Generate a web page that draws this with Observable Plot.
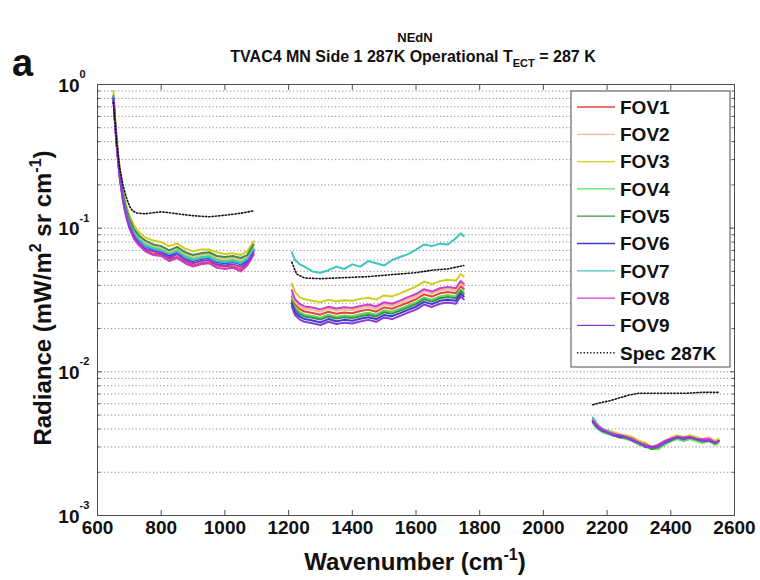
<!DOCTYPE html>
<html><head><meta charset="utf-8">
<script src="https://cdn.jsdelivr.net/npm/d3@7"></script>
<script src="https://cdn.jsdelivr.net/npm/@observablehq/plot@0.6"></script>
<style>
body{margin:0;background:#fff;}
#chart{width:760px;height:580px;}
</style></head><body><div id="chart"></div>
<script>
// Wavenumber grids for the three spectral bands (cm^-1)
const wnSeg = [
  [650, 655, 660, 665, 670, 680, 690, 700, 715, 730, 750, 775, 800, 825, 850, 875, 900, 925, 950, 975, 1000, 1025, 1050, 1070, 1090],
  [1210, 1220, 1235, 1250, 1275, 1300, 1325, 1350, 1375, 1400, 1425, 1450, 1475, 1500, 1525, 1550, 1575, 1600, 1625, 1650, 1675, 1700, 1725, 1740, 1750],
  [2155, 2170, 2185, 2200, 2220, 2240, 2260, 2280, 2300, 2320, 2340, 2360, 2380, 2400, 2420, 2440, 2460, 2480, 2500, 2520, 2540, 2550]
];

const FOV1 = [
  [0.80, 0.54, 0.39, 0.29, 0.225, 0.157, 0.122, 0.102, 0.086, 0.077, 0.071, 0.066, 0.066, 0.061, 0.063, 0.058, 0.055, 0.057, 0.058, 0.055, 0.054, 0.054, 0.052, 0.056, 0.066],
  [0.0336, 0.0294, 0.0273, 0.0263, 0.0257, 0.0250, 0.0262, 0.0254, 0.0259, 0.0256, 0.0265, 0.0271, 0.0262, 0.0281, 0.0275, 0.0289, 0.0304, 0.0320, 0.0346, 0.0334, 0.0352, 0.0359, 0.0352, 0.0394, 0.0378],
  [0.0046, 0.0042, 0.0039, 0.0038, 0.0037, 0.0036, 0.0035, 0.0034, 0.0032, 0.0031, 0.0030, 0.0030, 0.0032, 0.0034, 0.0035, 0.0034, 0.0035, 0.0034, 0.0033, 0.0034, 0.0032, 0.0033]
];
const FOV2 = [
  [0.84, 0.58, 0.41, 0.31, 0.242, 0.170, 0.134, 0.114, 0.096, 0.087, 0.080, 0.075, 0.073, 0.068, 0.072, 0.066, 0.063, 0.065, 0.066, 0.062, 0.061, 0.062, 0.060, 0.063, 0.074],
  [0.035, 0.031, 0.0286, 0.0275, 0.0270, 0.0262, 0.0275, 0.0266, 0.0272, 0.0268, 0.0277, 0.0284, 0.0275, 0.0295, 0.0288, 0.0302, 0.0319, 0.0336, 0.0363, 0.0350, 0.0368, 0.0376, 0.0368, 0.0412, 0.0396],
  [0.0047, 0.0042, 0.0040, 0.0039, 0.0038, 0.0037, 0.0036, 0.0035, 0.0033, 0.0032, 0.0030, 0.0031, 0.0033, 0.0035, 0.0036, 0.0035, 0.0036, 0.0035, 0.0034, 0.0035, 0.0033, 0.0034]
];
const FOV3 = [
  [0.90, 0.62, 0.44, 0.33, 0.26, 0.183, 0.145, 0.123, 0.104, 0.094, 0.086, 0.082, 0.080, 0.075, 0.078, 0.072, 0.069, 0.071, 0.071, 0.068, 0.066, 0.067, 0.065, 0.069, 0.081],
  [0.041, 0.036, 0.033, 0.032, 0.0313, 0.0305, 0.0318, 0.0310, 0.0315, 0.0312, 0.0322, 0.0328, 0.0318, 0.0340, 0.0335, 0.0352, 0.0372, 0.0392, 0.0425, 0.0408, 0.0428, 0.0438, 0.0430, 0.0480, 0.0462],
  [0.0046, 0.0042, 0.0040, 0.0039, 0.0038, 0.0036, 0.0036, 0.0035, 0.0033, 0.0032, 0.0030, 0.0031, 0.0033, 0.0034, 0.0036, 0.0035, 0.0036, 0.0035, 0.0034, 0.0034, 0.0033, 0.0034]
];
const FOV4 = [
  [0.82, 0.56, 0.40, 0.30, 0.235, 0.165, 0.130, 0.110, 0.093, 0.084, 0.077, 0.073, 0.071, 0.066, 0.070, 0.064, 0.061, 0.063, 0.064, 0.060, 0.059, 0.060, 0.058, 0.061, 0.072],
  [0.032, 0.028, 0.026, 0.025, 0.0245, 0.0238, 0.0250, 0.0242, 0.0247, 0.0244, 0.0252, 0.0258, 0.0250, 0.0268, 0.0262, 0.0275, 0.0290, 0.0305, 0.0330, 0.0318, 0.0335, 0.0342, 0.0335, 0.0375, 0.0360],
  [0.0044, 0.0040, 0.0038, 0.0037, 0.0036, 0.0035, 0.0034, 0.0033, 0.0031, 0.0030, 0.0029, 0.0029, 0.0031, 0.0033, 0.0034, 0.0033, 0.0034, 0.0033, 0.0032, 0.0033, 0.0031, 0.0032]
];
const FOV5 = [
  [0.83, 0.57, 0.41, 0.31, 0.245, 0.173, 0.137, 0.116, 0.098, 0.089, 0.082, 0.077, 0.075, 0.070, 0.074, 0.068, 0.065, 0.067, 0.068, 0.064, 0.063, 0.064, 0.062, 0.065, 0.077],
  [0.031, 0.0272, 0.0252, 0.0243, 0.0238, 0.0231, 0.0243, 0.0235, 0.0240, 0.0237, 0.0244, 0.0250, 0.0243, 0.0260, 0.0254, 0.0267, 0.0281, 0.0296, 0.0320, 0.0308, 0.0325, 0.0332, 0.0325, 0.0364, 0.0349],
  [0.0045, 0.0041, 0.0039, 0.0038, 0.0036, 0.0035, 0.0035, 0.0034, 0.0032, 0.0031, 0.0029, 0.0030, 0.0032, 0.0033, 0.0035, 0.0034, 0.0035, 0.0034, 0.0033, 0.0033, 0.0032, 0.0033]
];
const FOV6 = [
  [0.81, 0.55, 0.39, 0.29, 0.23, 0.161, 0.127, 0.107, 0.090, 0.082, 0.075, 0.071, 0.069, 0.064, 0.068, 0.062, 0.059, 0.061, 0.062, 0.058, 0.057, 0.058, 0.056, 0.059, 0.070],
  [0.0298, 0.0260, 0.0242, 0.0233, 0.0228, 0.0221, 0.0233, 0.0225, 0.0230, 0.0227, 0.0234, 0.0240, 0.0233, 0.0249, 0.0244, 0.0256, 0.0270, 0.0284, 0.0307, 0.0296, 0.0312, 0.0318, 0.0312, 0.0349, 0.0335],
  [0.0045, 0.0041, 0.0039, 0.0038, 0.0037, 0.0035, 0.0035, 0.0034, 0.0032, 0.0031, 0.0030, 0.0030, 0.0032, 0.0034, 0.0035, 0.0034, 0.0035, 0.0034, 0.0033, 0.0034, 0.0032, 0.0033]
];
const FOV7 = [
  [0.82, 0.56, 0.40, 0.30, 0.232, 0.163, 0.128, 0.108, 0.092, 0.083, 0.076, 0.072, 0.070, 0.066, 0.069, 0.063, 0.060, 0.062, 0.063, 0.059, 0.058, 0.059, 0.057, 0.061, 0.071],
  [0.068, 0.060, 0.056, 0.054, 0.050, 0.049, 0.051, 0.054, 0.052, 0.056, 0.054, 0.059, 0.057, 0.055, 0.060, 0.063, 0.066, 0.071, 0.077, 0.075, 0.078, 0.077, 0.085, 0.092, 0.088],
  [0.0048, 0.0043, 0.0040, 0.0039, 0.0037, 0.0036, 0.0035, 0.0034, 0.0032, 0.0031, 0.0030, 0.0030, 0.0032, 0.0034, 0.0035, 0.0034, 0.0035, 0.0034, 0.0033, 0.0034, 0.0032, 0.0033]
];
const FOV8 = [
  [0.79, 0.54, 0.38, 0.285, 0.222, 0.154, 0.120, 0.100, 0.084, 0.076, 0.069, 0.065, 0.064, 0.059, 0.062, 0.057, 0.054, 0.056, 0.057, 0.053, 0.052, 0.053, 0.050, 0.055, 0.065],
  [0.037, 0.032, 0.0297, 0.0285, 0.0280, 0.0272, 0.0284, 0.0276, 0.0282, 0.0278, 0.0287, 0.0294, 0.0285, 0.0305, 0.0298, 0.0313, 0.0331, 0.0348, 0.0376, 0.0362, 0.0382, 0.0390, 0.0382, 0.0428, 0.0410],
  [0.0046, 0.0042, 0.0040, 0.0038, 0.0037, 0.0036, 0.0035, 0.0034, 0.0032, 0.0031, 0.0030, 0.0031, 0.0033, 0.0034, 0.0035, 0.0035, 0.0035, 0.0034, 0.0034, 0.0034, 0.0032, 0.0033]
];
const FOV9 = [
  [0.80, 0.55, 0.39, 0.29, 0.228, 0.158, 0.124, 0.104, 0.088, 0.079, 0.072, 0.069, 0.067, 0.062, 0.066, 0.060, 0.057, 0.059, 0.060, 0.056, 0.055, 0.056, 0.054, 0.057, 0.068],
  [0.0285, 0.0249, 0.0231, 0.0223, 0.0218, 0.0212, 0.0223, 0.0215, 0.0220, 0.0217, 0.0224, 0.0230, 0.0223, 0.0239, 0.0233, 0.0245, 0.0258, 0.0271, 0.0294, 0.0283, 0.0298, 0.0304, 0.0298, 0.0334, 0.0320],
  [0.0045, 0.0041, 0.0039, 0.0038, 0.0036, 0.0036, 0.0035, 0.0033, 0.0032, 0.0030, 0.0030, 0.0030, 0.0032, 0.0034, 0.0035, 0.0034, 0.0035, 0.0034, 0.0033, 0.0033, 0.0032, 0.0033]
];

// Spec 287K
const specWn = [
  [650, 660, 670, 680, 690, 700, 710, 725, 750, 775, 800, 850, 900, 950, 1000, 1050, 1090],
  [1210, 1225, 1250, 1300, 1350, 1400, 1450, 1500, 1550, 1600, 1650, 1700, 1750],
  [2155, 2180, 2210, 2240, 2270, 2300, 2350, 2400, 2450, 2500, 2550]
];
const spec287 = [
  [0.75, 0.40, 0.26, 0.20, 0.165, 0.143, 0.132, 0.127, 0.126, 0.128, 0.130, 0.126, 0.122, 0.120, 0.123, 0.127, 0.132],
  [0.058, 0.048, 0.045, 0.0445, 0.045, 0.0455, 0.046, 0.047, 0.048, 0.049, 0.051, 0.052, 0.055],
  [0.0059, 0.0061, 0.0063, 0.0066, 0.0069, 0.0071, 0.0071, 0.0071, 0.0071, 0.0072, 0.0072]
];

const fovNames = ["FOV1", "FOV2", "FOV3", "FOV4", "FOV5", "FOV6", "FOV7", "FOV8", "FOV9"];
const fovColors = ["#e8413c", "#f5b98c", "#d2cc22", "#55e055", "#3a8f4a", "#3a3ad0", "#3cc4c4", "#cf3acf", "#8a3ad6"];
const specName = "Spec 287K";

const xTicks = [600, 800, 1000, 1200, 1400, 1600, 1800, 2000, 2200, 2400, 2600];
const yDecades = [0.001, 0.01, 0.1, 1];
const yExponents = ["-3", "-2", "-1", "0"];
const yMinor = [0.002, 0.003, 0.004, 0.005, 0.006, 0.007, 0.008, 0.009,
                0.02, 0.03, 0.04, 0.05, 0.06, 0.07, 0.08, 0.09,
                0.2, 0.3, 0.4, 0.5, 0.6, 0.7, 0.8, 0.9];

// Build tidy rows
const fovSeries = [FOV1, FOV2, FOV3, FOV4, FOV5, FOV6, FOV7, FOV8, FOV9];
const rows = [];
fovSeries.forEach((series, k) => series.forEach((seg, j) => seg.forEach((v, i) =>
  rows.push({fov: fovNames[k], key: fovNames[k] + "-" + j, wn: wnSeg[j][i], v}))));
const specRows = [];
spec287.forEach((seg, j) => seg.forEach((v, i) => specRows.push({seg: j, wn: specWn[j][i], v})));

const FONT = "'Liberation Sans', Arial, Helvetica, sans-serif";
const AX = "#4d4d4d";

const plot = Plot.plot({
  width: 760, height: 580,
  marginLeft: 97, marginRight: 26, marginTop: 84, marginBottom: 65,
  style: {fontFamily: FONT, background: "#fff", color: "#000", overflow: "visible"},
  x: {domain: [600, 2600], label: null},
  y: {type: "log", domain: [0.001, 1], label: null},
  color: {domain: fovNames, range: fovColors},
  marks: [
    Plot.ruleY([...yMinor, 0.01, 0.1], {stroke: "#8c8c8c", strokeDasharray: "1.2,2.3", strokeWidth: 1}),
    Plot.line(rows, {x: "wn", y: "v", z: "key", stroke: "fov", strokeWidth: 2}),
    Plot.line(specRows, {x: "wn", y: "v", z: "seg", stroke: "#111", strokeDasharray: "1.3,2", strokeWidth: 1.6}),
    Plot.frame({stroke: AX}),
    Plot.axisX(xTicks, {anchor: "bottom", tickSize: -5, tickFormat: () => "", stroke: AX, label: null}),
    Plot.axisX(xTicks, {anchor: "top", tickSize: -5, tickFormat: () => "", stroke: AX, label: null}),
    Plot.axisX(xTicks, {anchor: "bottom", tickSize: 0, tickPadding: 5, fontSize: 19, fontWeight: "bold", fill: "#111", tickFormat: d => String(d), label: null}),
    Plot.axisY(yDecades, {anchor: "left", tickSize: -5, tickFormat: () => "", stroke: AX, label: null}),
    Plot.axisY(yDecades, {anchor: "right", tickSize: -5, tickFormat: () => "", stroke: AX, label: null}),
    Plot.axisY(yMinor, {anchor: "left", tickSize: -3, tickFormat: () => "", stroke: AX, label: null}),
    Plot.axisY(yMinor, {anchor: "right", tickSize: -3, tickFormat: () => "", stroke: AX, label: null}),
    Plot.text(yDecades, {y: d => d, frameAnchor: "left", text: () => "10", textAnchor: "end", dx: -18, dy: 1, fontSize: 19, fontWeight: "bold", fill: "#111"}),
    Plot.text(yDecades, {y: d => d, frameAnchor: "left", text: (d, i) => yExponents[i], textAnchor: "start", dx: -18, dy: -10, fontSize: 11, fontWeight: "bold", fill: "#111"})
  ]
});

document.getElementById("chart").appendChild(plot);
const svg = d3.select(plot);

// Panel letter
svg.append("text").attr("x", 12).attr("y", 76).attr("text-anchor", "start").attr("font-family", FONT)
  .attr("font-size", 38).attr("font-weight", "bold").attr("fill", "#111").text("a");

// Titles
svg.append("text").attr("x", 415).attr("y", 42).attr("text-anchor", "middle")
  .attr("font-family", FONT).attr("font-size", 13).attr("font-weight", "bold").attr("fill", "#111").text("NEdN");
const t2 = svg.append("text").attr("x", 413).attr("y", 62).attr("text-anchor", "middle")
  .attr("font-family", FONT).attr("font-size", 16).attr("font-weight", "bold").attr("fill", "#111");
t2.append("tspan").text("TVAC4 MN Side 1 287K Operational T");
t2.append("tspan").attr("dy", 5).attr("font-size", 11).text("ECT");
t2.append("tspan").attr("dy", -5).text(" = 287 K");

// Axis labels
const yl = svg.append("text").attr("transform", "translate(51,298) rotate(-90)").attr("text-anchor", "middle")
  .attr("font-family", FONT).attr("font-size", 24).attr("font-weight", "bold").attr("fill", "#111");
yl.append("tspan").text("Radiance (mW/m");
yl.append("tspan").attr("dy", -10).attr("font-size", 16).text("2");
yl.append("tspan").attr("dy", 10).text(" sr cm");
yl.append("tspan").attr("dy", -10).attr("font-size", 16).text("-1");
yl.append("tspan").attr("dy", 10).text(")");

const xl = svg.append("text").attr("x", 415).attr("y", 570).attr("text-anchor", "middle")
  .attr("font-family", FONT).attr("font-size", 24).attr("font-weight", "bold").attr("fill", "#111");
xl.append("tspan").text("Wavenumber (cm");
xl.append("tspan").attr("dy", -10).attr("font-size", 16).text("-1");
xl.append("tspan").attr("dy", 10).text(")");

// Legend
const lg = svg.append("g").attr("text-anchor", "start");
lg.append("rect").attr("x", 571).attr("y", 91).attr("width", 159).attr("height", 276)
  .attr("fill", "#fff").attr("stroke", AX).attr("stroke-width", 1);
const entries = fovNames.map((n, i) => ({name: n, color: fovColors[i], dash: null}))
  .concat([{name: specName, color: "#111", dash: "1.3,2"}]);
entries.forEach((e, i) => {
  const y = 107 + i * 27.3;
  const ln = lg.append("line").attr("x1", 577).attr("x2", 615).attr("y1", y).attr("y2", y)
    .attr("stroke", e.color).attr("stroke-width", e.dash ? 1.6 : 1.3);
  if (e.dash) ln.attr("stroke-dasharray", e.dash);
  lg.append("text").attr("x", 620).attr("y", y).attr("dy", "0.36em").attr("text-anchor", "start").attr("font-family", FONT)
    .attr("font-size", 19).attr("font-weight", "bold").attr("fill", "#111").text(e.name);
});
</script>
</body></html>
